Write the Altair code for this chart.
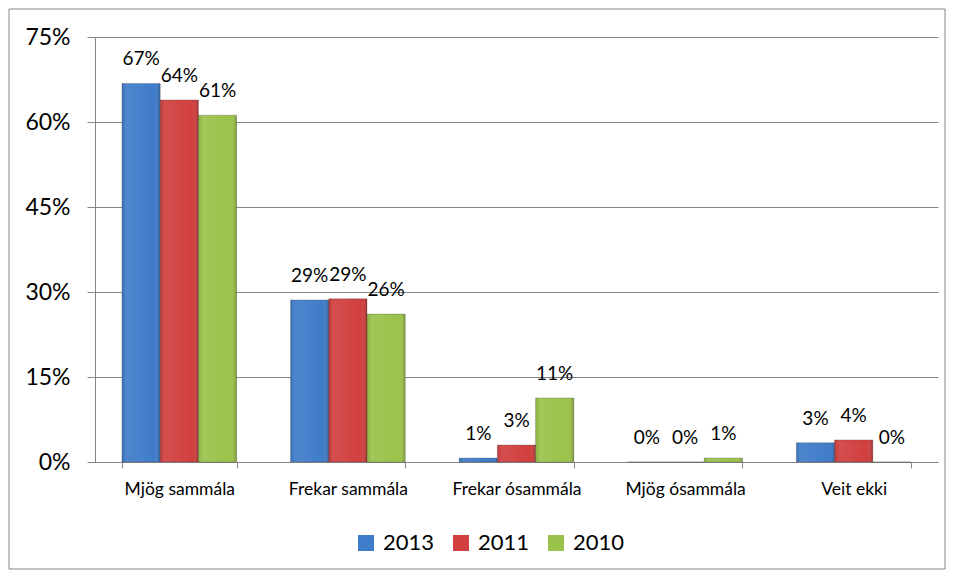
import altair as alt
import pandas as pd

categories = ["Mjög sammála", "Frekar sammála", "Frekar ósammála", "Mjög ósammála", "Veit ekki"]
years = ["2013", "2011", "2010"]
v2013 = [0.668, 0.286, 0.007, 0.0, 0.034]
v2011 = [0.639, 0.288, 0.030, 0.0, 0.039]
v2010 = [0.612, 0.261, 0.113, 0.007, 0.0]
colors = ["#3f7cc9", "#d13f3f", "#9bc24a"]
y_ticks = [0, 0.15, 0.30, 0.45, 0.60, 0.75]

rows = []
for yr, vals in zip(years, [v2013, v2011, v2010]):
    for c, v in zip(categories, vals):
        rows.append({"cat": c, "year": yr, "value": v})
df = pd.DataFrame(rows)

FONT = "Lato"

x = alt.X("cat:N", sort=categories, title=None,
          scale=alt.Scale(paddingInner=0.32, paddingOuter=0.16),
          axis=alt.Axis(labelAngle=0, labelFontSize=17.5, labelColor="#000000", labelFont=FONT,
                        labelFontWeight="normal",
                        tickBand="extent", tickSize=6, tickColor="#868686",
                        domainColor="#868686", labelPadding=12))
xo = alt.XOffset("year:N", sort=years, scale=alt.Scale(paddingInner=0, paddingOuter=0))
y = alt.Y("value:Q", title=None,
          scale=alt.Scale(domain=[0, 0.75], nice=False),
          axis=alt.Axis(values=y_ticks, format=".0%", labelFontSize=23, labelFont=FONT,
                        labelColor="#000000", tickSize=8, tickColor="#868686",
                        domainColor="#868686", gridColor="#868686", labelPadding=17))

bars = alt.Chart(df).mark_bar(stroke="#333333", strokeWidth=0.5, strokeOpacity=0.5).encode(
    x=x, xOffset=xo, y=y,
    color=alt.Color("year:N", sort=years,
                    scale=alt.Scale(domain=years, range=colors),
                    legend=alt.Legend(title=None, orient="none", direction="horizontal",
                                      legendX=260, legendY=495, symbolType="square",
                                      symbolSize=256, symbolStrokeWidth=0,
                                      labelFontSize=22, labelFont=FONT, labelColor="#000000",
                                      columnPadding=15, labelOffset=6, symbolOpacity=1)),
)

shine = alt.Chart(df).mark_bar(
    fill=alt.Gradient(gradient="linear", x1=0, x2=1, y1=0, y2=0,
                      stops=[alt.GradientStop(offset=0, color="rgba(0,0,0,0.10)"),
                             alt.GradientStop(offset=0.12, color="rgba(255,255,255,0.08)"),
                             alt.GradientStop(offset=0.85, color="rgba(255,255,255,0.0)"),
                             alt.GradientStop(offset=1, color="rgba(0,0,0,0.22)")])
).encode(x=x, xOffset=xo, y=y)

labels = alt.Chart(df).mark_text(fontSize=19, font=FONT, color="#000000", baseline="middle", dy=-24).encode(
    x=x, xOffset=xo, y=y, text=alt.Text("value:Q", format=".0%")
)

border = alt.Chart(pd.DataFrame({"a": [0]})).mark_rect(
    fill=None, stroke="#868686", strokeWidth=1
).encode(x=alt.value(-86), x2=alt.value(850), y=alt.value(-28), y2=alt.value(532))

chart = alt.layer(border, bars, shine, labels).properties(
    width=843, height=425,
    autosize=alt.AutoSizeParams(type="none"),
    padding={"left": 87, "top": 29, "right": 8, "bottom": 109},
    background="#ffffff",
).configure_view(stroke=None)

chart.save("out.html", embed_options={"renderer": "svg", "actions": False})
